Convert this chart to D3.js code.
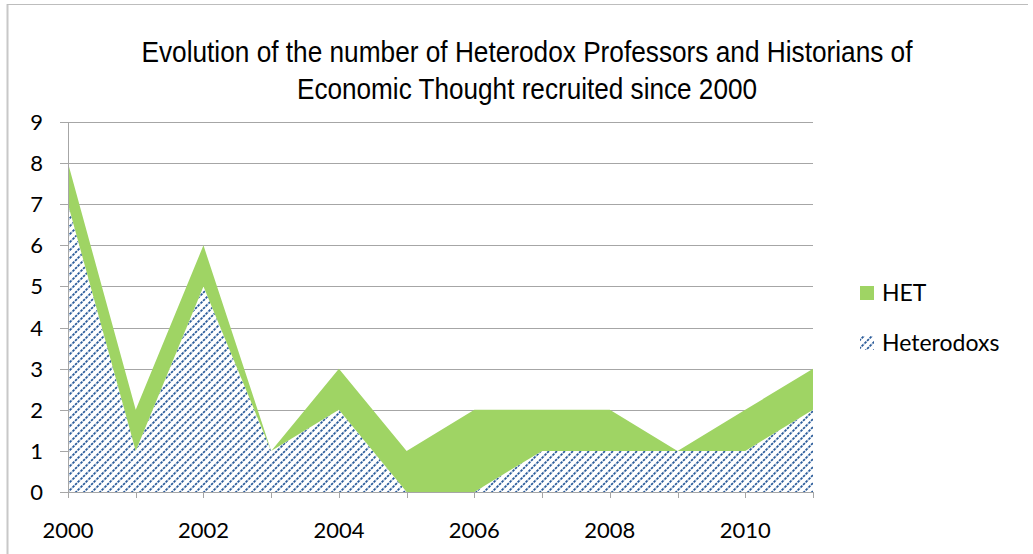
<!DOCTYPE html>
<html>
<head>
<meta charset="utf-8">
<script src="https://cdn.jsdelivr.net/npm/d3@7/dist/d3.min.js"></script>
<style>
html,body{margin:0;padding:0;background:#fff;}
svg{display:block;}
</style>
</head>
<body>
<svg id="chart" width="1033" height="554"></svg>
<script>
const years = [2000,2001,2002,2003,2004,2005,2006,2007,2008,2009,2010,2011];
const heterodoxs = [7,1,5,1,2,0,0,1,1,1,1,2];
const het = [1,1,1,0,1,1,2,1,1,0,1,1];
const seriesNames = ["Heterodoxs","HET"];
const yTicks = [0,1,2,3,4,5,6,7,8,9];
const xTickLabels = [2000,2002,2004,2006,2008,2010];
const titleLines = ["Evolution of the number of Heterodox Professors and Historians of","Economic Thought recruited since 2000"];

(function(){
const svg = d3.select("#chart");
const W = 1033, H = 554;
const pLeft = 68, pRight = 813, pTop = 122, pBottom = 492;
const x = d3.scaleLinear().domain([2000,2011]).range([pLeft,pRight]);
const y = d3.scaleLinear().domain([0,9]).range([pBottom,pTop]);

const defs = svg.append("defs");
const pat = defs.append("pattern").attr("id","hatch").attr("patternUnits","userSpaceOnUse")
  .attr("width",8).attr("height",8);
pat.append("rect").attr("width",8).attr("height",8).attr("fill","#fff");
pat.append("path").attr("d","M-2,10 L10,-2 M-2,2 L2,-2 M6,10 L10,6")
  .attr("stroke","#2c5d9b").attr("stroke-width",1.8).attr("stroke-dasharray","2.6,1");

// chart border
svg.append("line").attr("x1",7.5).attr("x2",7.5).attr("y1",4).attr("y2",H).attr("stroke","#c8c8c8").attr("stroke-width",2);
svg.append("line").attr("x1",7).attr("x2",1028).attr("y1",4.5).attr("y2",4.5).attr("stroke","#bdbdbd").attr("stroke-width",1);

// gridlines
svg.append("g").selectAll("line").data(yTicks).join("line")
  .attr("x1",60).attr("x2",pRight).attr("y1",d=>Math.round(y(d))+0.5).attr("y2",d=>Math.round(y(d))+0.5)
  .attr("stroke","#a6a6a6").attr("stroke-width",1);

// data table
const table = years.map((yr,i)=>({year:yr, Heterodoxs:heterodoxs[i], HET:het[i]}));
const stack = d3.stack().keys(seriesNames)(table);
const area = d3.area().x(d=>x(d.data.year)).y0(d=>y(d[0])).y1(d=>y(d[1]));
const fills = {"Heterodoxs":"url(#hatch)","HET":"#9fd464"};
svg.append("g").selectAll("path").data(stack).join("path")
  .attr("d",area).attr("fill",d=>fills[d.key]);

// axes lines
svg.append("line").attr("x1",pLeft+0.5).attr("x2",pLeft+0.5).attr("y1",pTop).attr("y2",pBottom+6).attr("stroke","#a6a6a6");
svg.append("line").attr("x1",60).attr("x2",pRight).attr("y1",pBottom+0.5).attr("y2",pBottom+0.5).attr("stroke","#a6a6a6");
svg.append("g").selectAll("line").data(years).join("line")
  .attr("x1",d=>Math.round(x(d))+0.5).attr("x2",d=>Math.round(x(d))+0.5)
  .attr("y1",pBottom).attr("y2",pBottom+6).attr("stroke","#a6a6a6");

const font = "Lato, 'Open Sans', sans-serif";
svg.append("g").selectAll("text").data(yTicks).join("text")
  .attr("x",43).attr("y",d=>y(d)+8).attr("text-anchor","end")
  .attr("font-family",font).attr("font-size",22).attr("fill","#000").text(d=>d);
svg.append("g").selectAll("text").data(xTickLabels).join("text")
  .attr("x",d=>x(d)).attr("y",538).attr("text-anchor","middle")
  .attr("font-family",font).attr("font-size",22).attr("fill","#000").text(d=>d);

// title
const tf = "'Liberation Sans Narrow','Arial Narrow','Liberation Sans',sans-serif";
svg.append("text").attr("x",527).attr("y",62).attr("text-anchor","middle")
  .attr("font-family",tf).attr("font-size",30).attr("textLength",771).attr("lengthAdjust","spacingAndGlyphs")
  .text(titleLines[0]);
svg.append("text").attr("x",527).attr("y",99).attr("text-anchor","middle")
  .attr("font-family",tf).attr("font-size",30).attr("textLength",460).attr("lengthAdjust","spacingAndGlyphs")
  .text(titleLines[1]);

// legend
const legendItems = [{name:"HET",fill:fills.HET,y:293},{name:"Heterodoxs",fill:fills.Heterodoxs,y:343}];
const lg = svg.append("g");
legendItems.forEach(it=>{
  lg.append("rect").attr("x",860).attr("y",it.y-7).attr("width",14).attr("height",14).attr("fill",it.fill);
  lg.append("text").attr("x",882).attr("y",it.y+8).attr("font-family",font).attr("font-size",23).text(it.name);
});
})();
</script>
</body>
</html>
